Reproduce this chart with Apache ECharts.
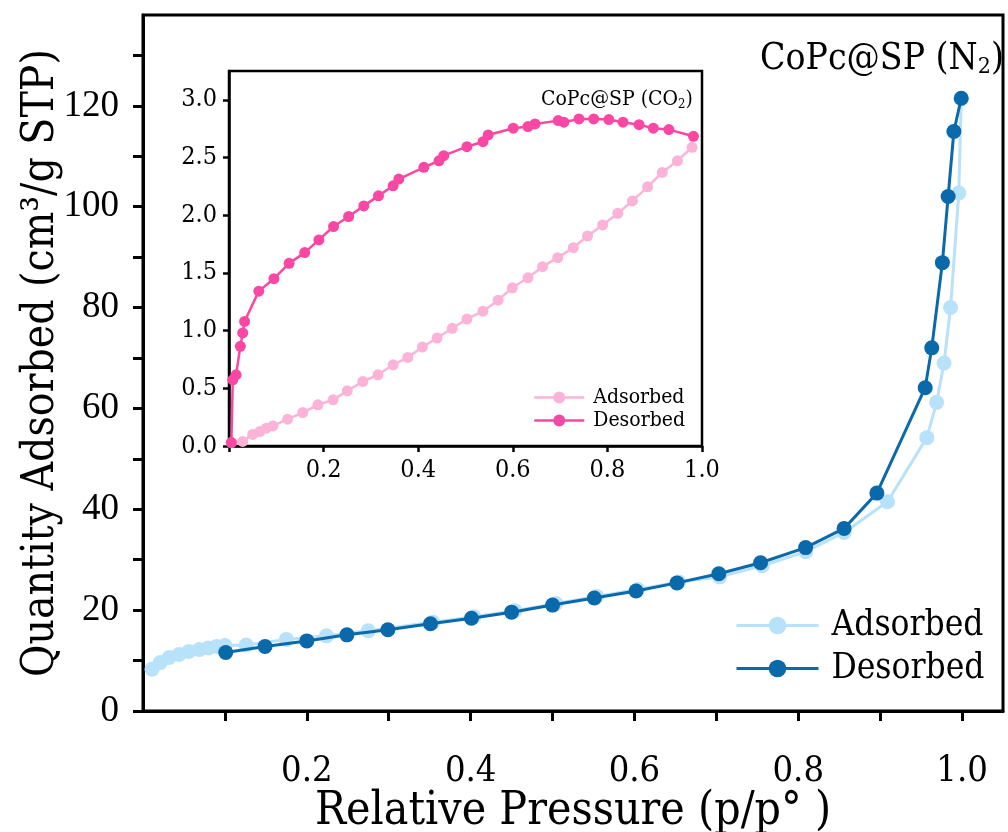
<!DOCTYPE html>
<html>
<head>
<meta charset="utf-8">
<script src="https://cdn.jsdelivr.net/npm/echarts@6/dist/echarts.min.js"></script>
<style>
  html, body { margin: 0; padding: 0; background: #ffffff; }
  #chart { width: 1008px; height: 832px; }
</style>
</head>
<body>
<div id="chart"></div>
<script>
// N2 isotherm (main plot), relative pressure vs quantity adsorbed (cm3/g STP)
const n2AdsP = [0.011, 0.021, 0.032, 0.044, 0.056, 0.069, 0.080, 0.090, 0.100, 0.126, 0.175, 0.224, 0.275,
  0.354, 0.404, 0.454, 0.504, 0.554, 0.604, 0.654, 0.704, 0.756, 0.809, 0.856, 0.909, 0.957, 0.969, 0.978, 0.986, 0.996, 0.999];
const n2AdsQ = [8.3, 9.6, 10.6, 11.2, 11.8, 12.2, 12.5, 12.8, 13.0, 13.1, 14.2, 14.9, 15.9,
  17.6, 18.7, 19.9, 21.3, 22.7, 24.1, 25.6, 26.6, 28.8, 31.6, 35.4, 41.5, 54.2, 61.2, 69.0, 80.0, 102.7, 121.4];
const n2DesP = [0.999, 0.990, 0.983, 0.976, 0.963, 0.955, 0.896, 0.856, 0.809, 0.754, 0.703, 0.652, 0.602,
  0.551, 0.500, 0.450, 0.401, 0.351, 0.299, 0.249, 0.200, 0.149, 0.101];
const n2DesQ = [121.5, 114.9, 102.0, 88.9, 72.0, 64.1, 43.2, 36.2, 32.4, 29.4, 27.2, 25.4, 23.8,
  22.4, 21.0, 19.6, 18.4, 17.3, 16.1, 15.1, 13.9, 12.8, 11.6];

// CO2 isotherm (inset)
const co2AdsP = [0.005, 0.029, 0.050, 0.065, 0.079, 0.093, 0.124, 0.156, 0.188, 0.220, 0.250, 0.283, 0.315, 0.347,
  0.378, 0.409, 0.440, 0.472, 0.503, 0.537, 0.569, 0.599, 0.632, 0.663, 0.695, 0.728, 0.758, 0.790, 0.822, 0.853,
  0.885, 0.916, 0.948, 0.979];
const co2AdsQ = [0.03, 0.04, 0.10, 0.125, 0.154, 0.174, 0.232, 0.29, 0.357, 0.40, 0.478, 0.559, 0.617, 0.704,
  0.768, 0.858, 0.936, 1.02, 1.10, 1.168, 1.264, 1.371, 1.458, 1.554, 1.632, 1.719, 1.82, 1.916, 2.017, 2.124,
  2.246, 2.371, 2.472, 2.589];
const co2DesP = [0.982, 0.930, 0.897, 0.867, 0.833, 0.803, 0.771, 0.740, 0.708, 0.696, 0.647, 0.632, 0.601, 0.548,
  0.537, 0.503, 0.454, 0.444, 0.412, 0.359, 0.347, 0.316, 0.285, 0.253, 0.221, 0.190, 0.160, 0.127, 0.095, 0.063,
  0.033, 0.029, 0.024, 0.015, 0.008, 0.005];
const co2DesQ = [2.684, 2.742, 2.754, 2.785, 2.806, 2.829, 2.835, 2.835, 2.806, 2.820, 2.791, 2.768, 2.754, 2.696,
  2.637, 2.594, 2.516, 2.472, 2.415, 2.313, 2.255, 2.168, 2.081, 1.989, 1.902, 1.786, 1.676, 1.583, 1.450, 1.342,
  1.080, 0.980, 0.864, 0.617, 0.574, 0.030];

const mainXTicks = [0.2, 0.4, 0.6, 0.8, 1.0];
const mainYTicks = [0, 20, 40, 60, 80, 100, 120];
const insetXTicks = [0.2, 0.4, 0.6, 0.8, 1.0];
const insetYTicks = [0.0, 0.5, 1.0, 1.5, 2.0, 2.5, 3.0];

const zip = (xs, ys) => xs.map((x, i) => [x, ys[i]]);
const near = (v, list) => list.some(t => Math.abs(t - v) < 1e-6);

const SERIF = '"DejaVu Serif Condensed", "Liberation Serif", serif';
const TIMES = '"Liberation Serif", serif';
const INK = '#000000';

const LIGHT_BLUE = '#b8e1fa';
const DARK_BLUE = '#0a69ab';
const LIGHT_PINK = '#fcb3d8';
const HOT_PINK = '#fa47a4';

function axisBase(lineW) {
  return {
    axisLine: { show: true, onZero: false, lineStyle: { color: INK, width: lineW } },
    splitLine: { show: false }
  };
}

const chart = echarts.init(document.getElementById('chart'), null, { renderer: 'canvas' });

chart.setOption({
  backgroundColor: '#ffffff',
  animation: false,
  title: [
    {
      text: '{a|CoPc@SP (N}{s|2}{a|)}',
      left: 755, top: 34,
      textStyle: { fontWeight: 'normal', rich: {
        a: { fontFamily: SERIF, fontSize: 37, fontWeight: 'normal', color: INK },
        s: { fontFamily: SERIF, fontSize: 23, fontWeight: 'normal', color: INK, padding: [17, 0, 0, 0] }
      } }
    },
    {
      text: '{a|CoPc@SP (CO}{s|2}{a|)}',
      left: 536, top: 83,
      textStyle: { fontWeight: 'normal', rich: {
        a: { fontFamily: SERIF, fontSize: 21, fontWeight: 'normal', color: INK },
        s: { fontFamily: SERIF, fontSize: 13, fontWeight: 'normal', color: INK, padding: [10, 0, 0, 0] }
      } }
    }
  ],
  legend: [
    {
      data: ['N2 Adsorbed', 'N2 Desorbed'],
      orient: 'vertical',
      left: 730, top: 603,
      itemWidth: 82, itemHeight: 22, itemGap: 8,
      lineStyle: { width: 3 },
      formatter: n => n.replace('N2 ', ''),
      textStyle: { fontFamily: SERIF, fontSize: 35, color: INK, padding: [0, 0, 0, 8] }
    },
    {
      data: ['CO2 Adsorbed', 'CO2 Desorbed'],
      orient: 'vertical',
      left: 528, top: 382,
      itemWidth: 50, itemHeight: 15, itemGap: 2,
      lineStyle: { width: 2.5 },
      formatter: n => n.replace('CO2 ', ''),
      textStyle: { fontFamily: SERIF, fontSize: 21, color: INK, padding: [0, 0, 0, 4] }
    }
  ],
  grid: [
    { left: 143, right: 5, top: 15, bottom: 121, outerBoundsMode: 'none', containLabel: false,
      show: true, borderColor: INK, borderWidth: 3, backgroundColor: 'transparent' },
    { left: 229, right: 306, top: 71, bottom: 386, outerBoundsMode: 'none', containLabel: false,
      show: true, borderColor: INK, borderWidth: 2.5, backgroundColor: 'transparent' }
  ],
  xAxis: [
    Object.assign(axisBase(3), {
      type: 'value', gridIndex: 0, min: 0, max: 1.05, interval: 0.1,
      axisTick: { show: true, inside: false, length: 10, lineStyle: { color: INK, width: 3 } },
      axisLabel: {
        margin: 43, fontFamily: SERIF, fontSize: 36, color: INK,
        showMinLabel: false, showMaxLabel: false,
        formatter: v => near(v, mainXTicks) ? v.toFixed(1) : ''
      },
      name: 'Relative Pressure (p/p° )', nameLocation: 'middle', nameGap: 78, nameMoveOverlap: false,
      nameTextStyle: { fontFamily: SERIF, fontSize: 46, color: INK }
    }),
    Object.assign(axisBase(2.5), {
      type: 'value', gridIndex: 1, min: 0, max: 1.0, interval: 0.2,
      axisTick: { show: true, inside: false, length: 6, lineStyle: { color: INK, width: 2.5 } },
      axisLabel: {
        margin: 12, fontFamily: SERIF, fontSize: 25, color: INK,
        formatter: v => near(v, insetXTicks) ? v.toFixed(1) : ''
      }
    })
  ],
  yAxis: [
    Object.assign(axisBase(3), {
      type: 'value', gridIndex: 0, min: 0, max: 138, interval: 10,
      axisTick: { show: true, inside: false, length: 10, lineStyle: { color: INK, width: 3 } },
      axisLabel: {
        margin: 24, fontFamily: TIMES, fontSize: 37, color: INK,
        showMaxLabel: false,
        formatter: v => near(v, mainYTicks) ? String(v) : ''
      },
      name: 'Quantity Adsorbed (cm³/g STP)', nameLocation: 'middle', nameGap: 79, nameRotate: 90,
      nameMoveOverlap: false,
      nameTextStyle: { fontFamily: SERIF, fontSize: 44, color: INK }
    }),
    Object.assign(axisBase(2.5), {
      type: 'value', gridIndex: 1, min: 0, max: 3.25, interval: 0.5,
      axisTick: { show: true, inside: false, length: 6, lineStyle: { color: INK, width: 2.5 } },
      axisLabel: {
        margin: 12, fontFamily: SERIF, fontSize: 25, color: INK,
        showMaxLabel: false,
        formatter: v => near(v, insetYTicks) ? v.toFixed(1) : ''
      }
    })
  ],
  series: [
    {
      name: 'N2 Adsorbed', type: 'line', xAxisIndex: 0, yAxisIndex: 0,
      data: zip(n2AdsP, n2AdsQ), symbol: 'circle', symbolSize: 15,
      itemStyle: { color: LIGHT_BLUE }, lineStyle: { color: LIGHT_BLUE, width: 3 }, z: 2
    },
    {
      name: 'N2 Desorbed', type: 'line', xAxisIndex: 0, yAxisIndex: 0,
      data: zip(n2DesP, n2DesQ), symbol: 'circle', symbolSize: 15,
      itemStyle: { color: DARK_BLUE }, lineStyle: { color: DARK_BLUE, width: 3 }, z: 3
    },
    {
      name: 'CO2 Adsorbed', type: 'line', xAxisIndex: 1, yAxisIndex: 1,
      data: zip(co2AdsP, co2AdsQ), symbol: 'circle', symbolSize: 11,
      itemStyle: { color: LIGHT_PINK }, lineStyle: { color: LIGHT_PINK, width: 2.5 }, z: 2
    },
    {
      name: 'CO2 Desorbed', type: 'line', xAxisIndex: 1, yAxisIndex: 1,
      data: zip(co2DesP, co2DesQ), symbol: 'circle', symbolSize: 11,
      itemStyle: { color: HOT_PINK }, lineStyle: { color: HOT_PINK, width: 2.5 }, z: 3
    }
  ]
});
</script>
</body>
</html>
